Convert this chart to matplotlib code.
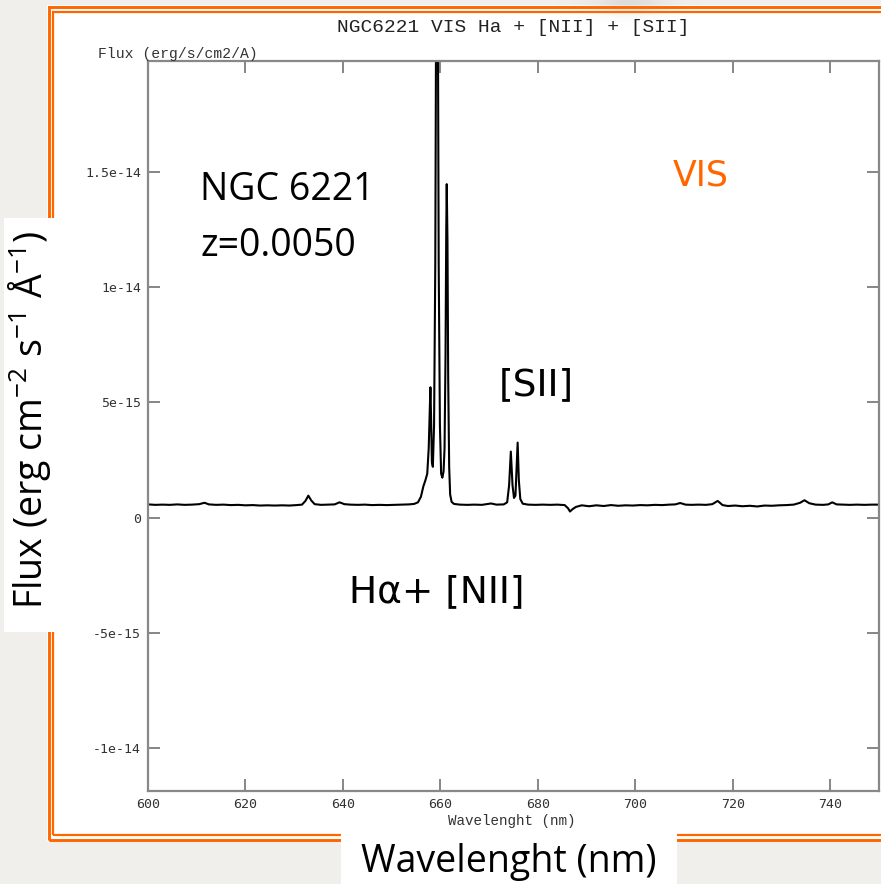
import numpy as np
import matplotlib
matplotlib.use("Agg")
import matplotlib.pyplot as plt
from matplotlib.patches import Rectangle

# spectrum: wavelength (nm) and flux in units of 1e-16 erg/s/cm2/A
wave = [600, 601.5, 603, 604.5, 606, 607.5, 609, 610.5, 611.6, 612.5,
        614, 615.5, 617, 618.5, 620, 621.5, 623, 624.5, 626, 627.5,
        629, 630.5, 631.6, 632.3, 632.9, 633.5, 634.2, 635.5, 637, 638.3,
        639.3, 640.3, 641.5, 643, 644.5, 646, 647.5, 649, 650.5, 652,
        653.5, 654.6, 655.4, 656.0, 656.5, 656.9, 657.3, 657.6, 657.8, 657.95,
        658.1, 658.25, 658.45, 658.7, 658.95, 659.15, 659.3, 659.45, 659.65, 659.9,
        660.15, 660.4, 660.65, 660.85, 661.05, 661.2, 661.3, 661.45, 661.6, 661.8,
        662.0, 662.3, 662.8, 664, 665.5, 667, 668.5, 670.4, 671.5, 673,
        673.7, 674.1, 674.45, 674.8, 675.1, 675.4, 675.6, 675.85, 676.1, 676.4,
        676.9, 678, 679.5, 681, 682.5, 684, 685.5, 686.2, 686.6, 687.1,
        687.8, 689, 690.5, 692, 693.5, 695, 696.5, 698, 699.5, 701,
        702.5, 704, 705.5, 707, 708.2, 709.2, 710.3, 711.5, 713, 714.5,
        715.8, 716.9, 717.9, 719, 720.5, 722, 723.5, 725, 726.5, 728,
        729.5, 731, 732.5, 733.8, 734.7, 735.7, 737, 738.5, 739.6, 740.4,
        741.3, 742.5, 744, 745.5, 747, 748.5, 750]
flux = [5.7, 5.5, 5.6, 5.5, 5.7, 5.5, 5.6, 5.8, 6.4, 5.7,
        5.5, 5.6, 5.4, 5.5, 5.3, 5.4, 5.2, 5.3, 5.2, 5.3,
        5.2, 5.4, 5.6, 7.2, 9.5, 7.4, 5.8, 5.5, 5.6, 5.7,
        6.6, 5.8, 5.6, 5.5, 5.6, 5.4, 5.5, 5.4, 5.5, 5.6,
        5.7, 5.9, 6.6, 9.0, 13.5, 16.0, 19.0, 30, 45, 56.5,
        42, 24, 22, 40, 110, 240, 300, 240, 110, 40,
        19, 17.3, 20, 30, 70, 125, 144.6, 120, 60, 22,
        10, 6.8, 5.9, 5.6, 5.5, 5.6, 5.5, 6.1, 5.6, 5.7,
        6.6, 14, 28.6, 14, 8.5, 9.5, 20, 32.5, 16, 8,
        6.0, 5.6, 5.5, 5.6, 5.5, 5.6, 5.4, 4.0, 2.6, 3.6,
        4.6, 5.3, 4.9, 5.3, 5.0, 5.4, 5.1, 5.3, 5.2, 5.4,
        5.3, 5.5, 5.4, 5.6, 5.7, 6.3, 5.6, 5.5, 5.6, 5.5,
        5.8, 7.2, 5.4, 5.0, 5.2, 4.9, 5.1, 4.8, 5.2, 5.1,
        5.3, 5.4, 5.6, 6.4, 7.5, 6.2, 5.6, 5.5, 5.7, 6.6,
        5.7, 5.6, 5.5, 5.6, 5.5, 5.6, 5.6]

x_ticks = [600, 620, 640, 660, 680, 700, 720, 740]
y_ticks = [-1e-14, -5e-15, 0, 5e-15, 1e-14, 1.5e-14]
y_tick_labels = ["-1e-14", "-5e-15", "0", "5e-15", "1e-14", "1.5e-14"]

ORANGE = "#ff6600"
BG = "#f0efeb"
BIG_FONT = ["Open Sans", "DejaVu Sans"]
WIDE_FONT = ["DejaVu Sans"]

plt.rcParams["mathtext.default"] = "regular"

W, H = 881, 884
fig = plt.figure(figsize=(W / 100, H / 100), dpi=100)
fig.patch.set_facecolor(BG)


def fx(x):
    return x / W


def fy(y):
    return 1 - y / H


def box(x0, y0, x1, y1, **kw):
    r = Rectangle((fx(x0), fy(y1)), (x1 - x0) / W, (y1 - y0) / H,
                  transform=fig.transFigure, **kw)
    fig.add_artist(r)
    return r


# soft grey smudge at the top edge
yy, xx = np.mgrid[0:40, 0:160]
blob = np.exp(-(((xx - 80) / 34.0) ** 2 + ((yy - 3) / 11.0) ** 2))
rgba = np.zeros((40, 160, 4))
rgba[..., :3] = 0.75
rgba[..., 3] = 0.4 * blob
fig.figimage(rgba, xo=548, yo=H - 40, origin="upper", zorder=0.5)

# slide frame: white panel with double orange border
box(47, 5, 910, 841, facecolor="white", edgecolor="none", zorder=0.2)
box(48.6, 6.8, 910, 839.6, facecolor="none", edgecolor=ORANGE, lw=2.1, zorder=1)
box(52.8, 12.2, 910, 834.5, facecolor="none", edgecolor=ORANGE, lw=1.6, zorder=1)

# plot area
ax = fig.add_axes([fx(148), fy(791), (879 - 148) / W, (791 - 61) / H])
ax.set_zorder(1.5)
ax.set_facecolor("white")
ax.plot(wave, np.array(flux) * 1e-16, color="black", lw=1.5, solid_joinstyle="round")
ax.set_xlim(600, 750)
ax.set_ylim(-1.186e-14, 1.98e-14)
ax.set_xticks(x_ticks)
ax.set_yticks(y_ticks)
ax.set_yticklabels(y_tick_labels)
ax.tick_params(direction="in", length=8.6, width=1.1, color="#666666",
               labelcolor="#333333", labelsize=9.5, top=True, right=True, pad=5)
for lab in ax.get_xticklabels() + ax.get_yticklabels():
    lab.set_fontfamily("DejaVu Sans Mono")
for sp in ax.spines.values():
    sp.set_color("#888888")
    sp.set_linewidth(1.6)

fig.text(fx(513), fy(28), "NGC6221 VIS Ha + [NII] + [SII]", ha="center", va="center",
         family="Liberation Mono", fontsize=14, color="#222222")
fig.text(fx(98), fy(58), "Flux (erg/s/cm2/A)", ha="left", va="baseline",
         family="Liberation Mono", fontsize=10.6, color="#333333")
fig.text(fx(512), fy(825), "Wavelenght (nm)", ha="center", va="baseline",
         family="Liberation Mono", fontsize=10.3, color="#333333")

# annotations
fig.text(fx(200), fy(200), "NGC 6221", ha="left", va="baseline",
         family=BIG_FONT, fontsize=27, color="black", zorder=3)
fig.text(fx(200), fy(256), "z=0.0050", ha="left", va="baseline",
         family=BIG_FONT, fontsize=27, color="black", zorder=3)
fig.text(fx(701), fy(185), "VIS", ha="center", va="baseline",
         family=WIDE_FONT, fontsize=25, color=ORANGE, zorder=3)
fig.text(fx(536), fy(395), "[SII]", ha="center", va="baseline",
         family=WIDE_FONT, fontsize=27, color="black", zorder=3)
fig.text(fx(437), fy(602), "H\u03b1+ [NII]", ha="center", va="baseline",
         family=WIDE_FONT, fontsize=27, color="black", zorder=3)

# outer axis titles on white cards
box(4, 218, 55, 632, facecolor="white", edgecolor="none", zorder=2)
fig.text(fx(30), fy(420), "Flux (erg cm$^{-2}$ s$^{-1}$ \u00c5$^{-1}$)", ha="center", va="center",
         rotation=90, family=BIG_FONT, fontsize=27, color="black", zorder=3)
box(341, 828, 677, 884, facecolor="white", edgecolor="none", zorder=2)
fig.text(fx(509), fy(872), "Wavelenght (nm)", ha="center", va="baseline",
         family=BIG_FONT, fontsize=27, color="black", zorder=3)

fig.savefig("out.png", dpi=100, facecolor=BG)
